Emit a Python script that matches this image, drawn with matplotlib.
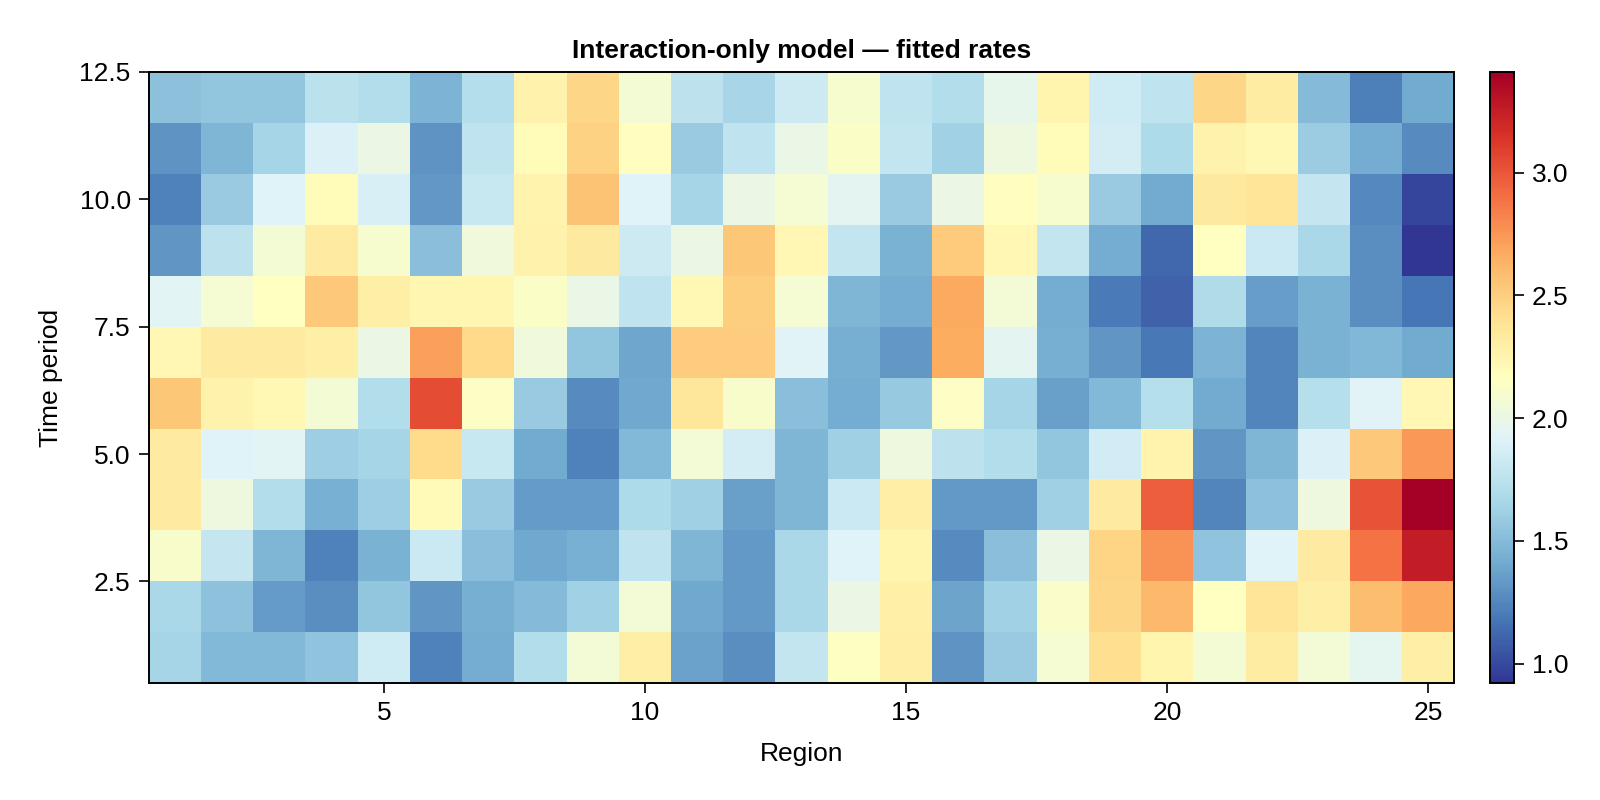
import matplotlib
matplotlib.use("Agg")
import matplotlib.pyplot as plt
import numpy as np

plt.rcParams["font.family"] = ["Liberation Sans", "DejaVu Sans"]

regions = np.arange(1, 26)
periods = np.arange(1, 13)

# fitted rates, one list per time period (period 1 first), regions 1..25
p01 = [1.64, 1.49, 1.49, 1.55, 1.84, 1.23, 1.42, 1.70, 2.06, 2.30, 1.37, 1.28, 1.78, 2.15, 2.30, 1.30, 1.59, 2.08, 2.41, 2.25, 2.07, 2.32, 2.06, 1.96, 2.30]
p02 = [1.66, 1.54, 1.34, 1.28, 1.56, 1.31, 1.43, 1.50, 1.63, 2.06, 1.40, 1.33, 1.66, 2.00, 2.29, 1.38, 1.63, 2.12, 2.46, 2.61, 2.16, 2.37, 2.30, 2.59, 2.69]
p03 = [2.11, 1.79, 1.47, 1.23, 1.45, 1.82, 1.52, 1.40, 1.44, 1.76, 1.47, 1.33, 1.66, 1.92, 2.25, 1.27, 1.52, 2.00, 2.47, 2.76, 1.55, 1.92, 2.33, 2.89, 3.26]
p04 = [2.33, 2.02, 1.70, 1.44, 1.61, 2.21, 1.59, 1.34, 1.34, 1.68, 1.62, 1.36, 1.47, 1.82, 2.30, 1.33, 1.33, 1.62, 2.33, 2.97, 1.25, 1.53, 2.02, 3.02, 3.41]
p05 = [2.33, 1.92, 1.94, 1.61, 1.64, 2.43, 1.80, 1.41, 1.23, 1.49, 2.06, 1.86, 1.47, 1.62, 2.02, 1.75, 1.70, 1.56, 1.85, 2.26, 1.31, 1.47, 1.90, 2.53, 2.74]
p06 = [2.54, 2.27, 2.22, 2.07, 1.70, 3.05, 2.14, 1.59, 1.27, 1.40, 2.35, 2.11, 1.52, 1.42, 1.58, 2.14, 1.64, 1.36, 1.49, 1.72, 1.41, 1.25, 1.72, 1.93, 2.23]
p07 = [2.23, 2.33, 2.33, 2.30, 2.00, 2.71, 2.44, 2.04, 1.56, 1.39, 2.51, 2.51, 1.93, 1.43, 1.32, 2.67, 1.95, 1.43, 1.31, 1.19, 1.46, 1.25, 1.45, 1.48, 1.41]
p08 = [1.94, 2.08, 2.16, 2.53, 2.30, 2.24, 2.24, 2.13, 1.99, 1.76, 2.22, 2.50, 2.08, 1.47, 1.42, 2.68, 2.06, 1.42, 1.20, 1.10, 1.69, 1.35, 1.45, 1.28, 1.18]
p09 = [1.31, 1.75, 2.07, 2.33, 2.10, 1.52, 2.04, 2.27, 2.34, 1.83, 2.00, 2.54, 2.23, 1.78, 1.45, 2.52, 2.23, 1.78, 1.42, 1.12, 2.16, 1.82, 1.66, 1.28, 0.92]
p10 = [1.23, 1.59, 1.92, 2.20, 1.88, 1.32, 1.80, 2.26, 2.56, 1.92, 1.64, 2.00, 2.08, 1.95, 1.59, 2.00, 2.17, 2.10, 1.59, 1.41, 2.34, 2.37, 1.79, 1.26, 0.98]
p11 = [1.30, 1.47, 1.64, 1.90, 2.00, 1.30, 1.76, 2.19, 2.48, 2.17, 1.59, 1.76, 1.99, 2.13, 1.78, 1.63, 2.02, 2.19, 1.86, 1.68, 2.27, 2.22, 1.60, 1.42, 1.27]
p12 = [1.53, 1.56, 1.56, 1.74, 1.70, 1.46, 1.71, 2.27, 2.46, 2.07, 1.75, 1.65, 1.83, 2.10, 1.76, 1.70, 1.98, 2.25, 1.84, 1.76, 2.46, 2.32, 1.50, 1.22, 1.41]

rates = np.array([p01, p02, p03, p04, p05, p06, p07, p08, p09, p10, p11, p12])

fig = plt.figure(figsize=(8, 4), dpi=200)
ax = fig.add_axes([0.093, 0.146, 0.816, 0.764])
cax = fig.add_axes([0.931, 0.146, 0.015, 0.764])

xe = np.append(regions - 0.5, regions[-1] + 0.5)
ye = np.append(periods - 0.5, periods[-1] + 0.5)
mesh = ax.pcolormesh(xe, ye, rates, cmap="RdYlBu_r",
                     vmin=rates.min(), vmax=rates.max())

ax.set_xlim(0.5, 25.5)
ax.set_ylim(0.5, 12.5)
ax.set_xticks([5, 10, 15, 20, 25])
ax.set_yticks([2.5, 5.0, 7.5, 10.0, 12.5])
ax.set_yticklabels(["2.5", "5.0", "7.5", "10.0", "12.5"])
ax.tick_params(direction="out", length=3.5, width=0.6, labelsize=9.5, pad=3)
for s in ax.spines.values():
    s.set_linewidth(0.7)

ax.set_xlabel("Region", fontsize=9.5, labelpad=6)
ax.set_ylabel("Time period", fontsize=9.5, labelpad=6)
ax.set_title("Interaction-only model \u2014 fitted rates", fontsize=9.5,
             fontweight="bold", pad=5)

cb = fig.colorbar(mesh, cax=cax)
cb.set_ticks([1.0, 1.5, 2.0, 2.5, 3.0])
cb.ax.tick_params(direction="out", length=3.5, width=0.6, labelsize=9.5, pad=3)
cb.outline.set_linewidth(0.7)

fig.savefig("out.png", dpi=200)
